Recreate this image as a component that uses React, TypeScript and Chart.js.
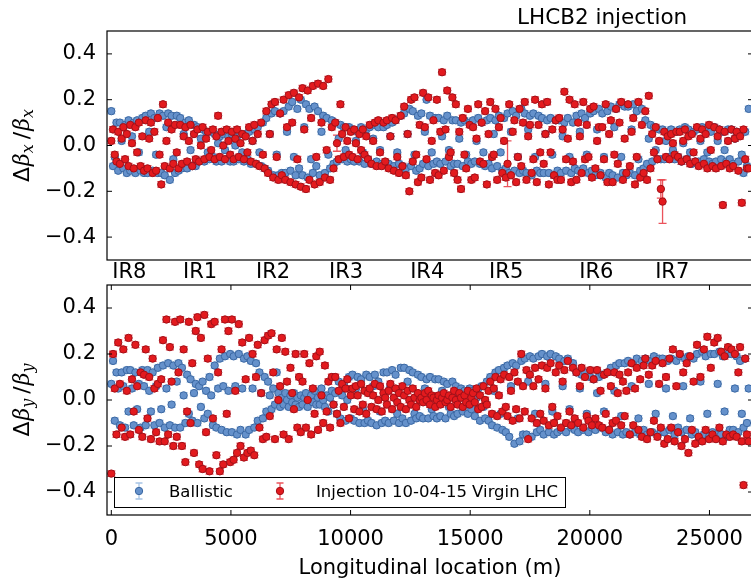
import React, { useEffect, useRef } from "react";
import { Chart, registerables } from "chart.js";

Chart.register(...registerables);

// BPM longitudinal positions (m)
const positions = [
  0, 72, 144, 216, 288, 360, 432, 504, 576, 648,
  720, 792, 864, 936, 1008, 1080, 1152, 1224, 1296, 1368,
  1440, 1512, 1584, 1656, 1728, 1800, 1872, 1944, 2016, 2088,
  2160, 2232, 2304, 2376, 2448, 2520, 2592, 2664, 2736, 2808,
  2880, 2952, 3024, 3096, 3168, 3240, 3312, 3384, 3456, 3528,
  3600, 3672, 3744, 3816, 3888, 3960, 4032, 4104, 4176, 4248,
  4320, 4392, 4464, 4536, 4608, 4680, 4752, 4824, 4896, 4968,
  5040, 5112, 5184, 5256, 5328, 5400, 5472, 5544, 5616, 5688,
  5760, 5832, 5904, 5976, 6048, 6120, 6192, 6264, 6336, 6408,
  6480, 6552, 6624, 6696, 6768, 6840, 6912, 6984, 7056, 7128,
  7200, 7272, 7344, 7416, 7488, 7560, 7632, 7704, 7776, 7848,
  7920, 7992, 8064, 8136, 8208, 8280, 8352, 8424, 8496, 8568,
  8640, 8712, 8784, 8856, 8928, 9000, 9072, 9144, 9216, 9288,
  9360, 9432, 9504, 9576, 9648, 9720, 9792, 9864, 9936, 10008,
  10080, 10152, 10224, 10296, 10368, 10440, 10512, 10584, 10656, 10728,
  10800, 10872, 10944, 11016, 11088, 11160, 11232, 11304, 11376, 11448,
  11520, 11592, 11664, 11736, 11808, 11880, 11952, 12024, 12096, 12168,
  12240, 12312, 12384, 12456, 12528, 12600, 12672, 12744, 12816, 12888,
  12960, 13032, 13104, 13176, 13248, 13320, 13392, 13464, 13536, 13608,
  13680, 13752, 13824, 13896, 13968, 14040, 14112, 14184, 14256, 14328,
  14400, 14472, 14544, 14616, 14688, 14760, 14832, 14904, 14976, 15048,
  15120, 15192, 15264, 15336, 15408, 15480, 15552, 15624, 15696, 15768,
  15840, 15912, 15984, 16056, 16128, 16200, 16272, 16344, 16416, 16488,
  16560, 16632, 16704, 16776, 16848, 16920, 16992, 17064, 17136, 17208,
  17280, 17352, 17424, 17496, 17568, 17640, 17712, 17784, 17856, 17928,
  18000, 18072, 18144, 18216, 18288, 18360, 18432, 18504, 18576, 18648,
  18720, 18792, 18864, 18936, 19008, 19080, 19152, 19224, 19296, 19368,
  19440, 19512, 19584, 19656, 19728, 19800, 19872, 19944, 20016, 20088,
  20160, 20232, 20304, 20376, 20448, 20520, 20592, 20664, 20736, 20808,
  20880, 20952, 21024, 21096, 21168, 21240, 21312, 21384, 21456, 21528,
  21600, 21672, 21744, 21816, 21888, 21960, 22032, 22104, 22176, 22248,
  22320, 22392, 22464, 22536, 22608, 22680, 22752, 22824, 22896, 22968,
  23040, 23112, 23184, 23256, 23328, 23400, 23472, 23544, 23616, 23688,
  23760, 23832, 23904, 23976, 24048, 24120, 24192, 24264, 24336, 24408,
  24480, 24552, 24624, 24696, 24768, 24840, 24912, 24984, 25056, 25128,
  25200, 25272, 25344, 25416, 25488, 25560, 25632, 25704, 25776, 25848,
  25920, 25992, 26064, 26136, 26208, 26280, 26352, 26424, 26496, 26568,
  26640,
];

// Δβx/βx — ballistic optics
const betaXBallistic = [
  0.15, -0.09, -0.05, 0.10, -0.11, 0.10, 0.02, -0.10, 0.09, -0.12,
  0.11, -0.11, 0.04, 0.10, -0.12, 0.11, -0.03, -0.11, 0.12, -0.12,
  0.13, -0.12, 0.06, 0.14, -0.11, 0.12, -0.04, -0.12, 0.14, -0.12,
  0.13, -0.13, 0.08, 0.14, -0.15, 0.13, -0.06, -0.12, 0.13, -0.11,
  0.12, -0.10, 0.05, 0.10, -0.10, 0.11, -0.02, -0.09, 0.09, -0.09,
  0.08, -0.07, 0.03, 0.07, -0.07, 0.06, -0.03, -0.06, 0.06, -0.05,
  0.05, -0.07, 0.01, 0.04, -0.07, 0.05, -0.02, -0.06, 0.04, -0.07,
  0.05, -0.07, 0.00, 0.04, -0.06, 0.05, -0.03, -0.07, 0.05, -0.06,
  0.06, -0.08, 0.02, 0.07, -0.08, 0.08, -0.03, -0.09, 0.10, -0.10,
  0.12, -0.11, 0.05, 0.14, -0.13, 0.15, -0.04, -0.13, 0.14, -0.12,
  0.15, -0.12, 0.06, 0.17, -0.11, 0.19, -0.05, -0.13, 0.16, -0.10,
  0.20, -0.13, 0.08, 0.18, -0.14, 0.16, -0.06, -0.12, 0.17, -0.09,
  0.15, -0.13, 0.06, 0.13, -0.12, 0.12, -0.04, -0.10, 0.11, -0.08,
  0.10, -0.07, 0.03, 0.09, -0.06, 0.08, -0.02, -0.07, 0.08, -0.06,
  0.07, -0.07, 0.02, 0.06, -0.07, 0.08, -0.03, -0.08, 0.07, -0.06,
  0.08, -0.08, 0.03, 0.09, -0.07, 0.08, -0.02, -0.08, 0.08, -0.08,
  0.09, -0.08, 0.04, 0.10, -0.09, 0.11, -0.03, -0.08, 0.13, -0.09,
  0.14, -0.10, 0.05, 0.16, -0.09, 0.15, -0.04, -0.11, 0.13, -0.10,
  0.14, -0.08, 0.06, 0.20, -0.09, 0.13, -0.03, -0.08, 0.12, -0.07,
  0.12, -0.08, 0.04, 0.11, -0.07, 0.13, -0.02, -0.09, 0.11, -0.08,
  0.11, -0.08, 0.03, 0.10, -0.09, 0.11, -0.04, -0.07, 0.10, -0.08,
  0.11, -0.07, 0.02, 0.12, -0.08, 0.10, -0.03, -0.09, 0.11, -0.08,
  0.12, -0.10, 0.05, 0.11, -0.09, 0.13, -0.03, -0.11, 0.12, -0.10,
  0.14, -0.12, 0.06, 0.15, -0.11, 0.13, -0.05, -0.12, 0.16, -0.11,
  0.14, -0.12, 0.07, 0.13, -0.13, 0.14, -0.05, -0.11, 0.13, -0.12,
  0.12, -0.12, 0.05, 0.11, -0.12, 0.12, -0.04, -0.13, 0.11, -0.11,
  0.11, -0.12, 0.04, 0.10, -0.11, 0.12, -0.05, -0.12, 0.10, -0.10,
  0.13, -0.11, 0.06, 0.14, -0.10, 0.12, -0.04, -0.12, 0.14, -0.11,
  0.15, -0.13, 0.07, 0.16, -0.12, 0.14, -0.05, -0.14, 0.15, -0.12,
  0.17, -0.13, 0.08, 0.16, -0.14, 0.18, -0.05, -0.12, 0.17, -0.13,
  0.17, -0.12, 0.07, 0.18, -0.13, 0.15, -0.06, -0.11, 0.16, -0.10,
  0.11, -0.08, 0.03, 0.09, -0.07, 0.08, -0.02, -0.06, 0.07, -0.06,
  0.07, -0.06, 0.02, 0.06, -0.05, 0.07, -0.02, -0.06, 0.06, -0.05,
  0.07, -0.07, 0.01, 0.08, -0.06, 0.07, -0.03, -0.08, 0.06, -0.07,
  0.07, -0.07, 0.02, 0.08, -0.06, 0.07, -0.03, -0.07, 0.06, -0.08,
  0.08, -0.07, 0.02, 0.07, -0.06, 0.06, -0.02, -0.07, 0.07, -0.06,
  0.07, -0.08, 0.03, 0.06, -0.07, 0.05, -0.04, -0.12, 0.06, -0.09,
  0.16,
];

// Δβx/βx — injection optics, 10-04-15, virgin LHC
const betaXInjection = [
  0.02, 0.07, -0.04, -0.07, 0.06, -0.08, 0.03, 0.08, -0.06, 0.05,
  -0.09, 0.09, 0.01, -0.10, 0.08, -0.03, 0.10, -0.09, 0.04, -0.11,
  0.11, -0.10, 0.03, 0.10, -0.12, 0.06, -0.11, 0.12, -0.04, -0.17,
  0.18, -0.09, 0.02, 0.10, -0.10, 0.07, -0.08, 0.09, -0.03, -0.10,
  0.09, -0.08, 0.04, 0.08, -0.07, 0.02, 0.09, -0.09, 0.05, -0.06,
  0.07, -0.07, 0.00, 0.08, -0.06, 0.03, 0.06, -0.05, -0.02, 0.07,
  -0.06, 0.04, 0.13, -0.05, 0.06, 0.00, -0.06, 0.07, 0.02, -0.04,
  0.06, -0.06, 0.03, 0.07, -0.05, 0.01, 0.05, -0.06, 0.04, -0.03,
  0.08, -0.07, 0.02, 0.09, -0.08, 0.05, -0.09, 0.10, -0.04, -0.10,
  0.15, -0.12, 0.05, 0.18, -0.14, 0.19, -0.05, -0.15, 0.14, -0.13,
  0.20, -0.15, 0.08, 0.22, -0.16, 0.10, 0.23, -0.17, -0.06, 0.21,
  -0.18, 0.25, 0.07, -0.19, 0.24, -0.15, 0.12, 0.26, -0.17, -0.05,
  0.27, -0.16, 0.10, 0.26, -0.14, -0.02, 0.29, -0.15, 0.08, -0.10,
  0.10, 0.01, -0.06, 0.18, 0.05, -0.05, 0.08, 0.02, -0.04, 0.06,
  -0.05, 0.07, 0.01, -0.06, 0.05, -0.02, 0.07, -0.04, 0.04, -0.06,
  0.09, -0.08, 0.02, 0.10, -0.09, 0.11, -0.03, -0.09, 0.10, -0.07,
  0.11, -0.10, 0.04, 0.12, -0.11, 0.11, -0.05, -0.12, 0.13, -0.09,
  0.17, -0.13, 0.05, -0.20, 0.20, -0.07, 0.21, -0.04, -0.16, 0.09,
  -0.14, 0.23, 0.08, -0.06, 0.21, -0.15, 0.02, 0.11, -0.12, 0.20,
  -0.13, 0.06, 0.32, -0.11, 0.07, 0.24, -0.05, -0.03, 0.21, -0.12,
  0.18, -0.15, 0.06, -0.19, 0.12, -0.04, -0.10, 0.16, 0.09, -0.15,
  0.08, -0.14, 0.03, 0.18, -0.07, 0.10, -0.08, 0.15, -0.17, 0.05,
  0.19, -0.05, -0.04, 0.16, -0.15, 0.08, 0.12, -0.12, 0.02, -0.14,
  -0.08, 0.18, -0.13, 0.06, 0.11, -0.16, -0.05, 0.16, -0.09, 0.10,
  0.19, -0.15, 0.04, 0.09, -0.12, -0.06, 0.20, -0.16, 0.09, -0.03,
  0.18, -0.08, 0.05, 0.19, -0.17, -0.03, 0.07, -0.13, 0.11, -0.15,
  0.12, -0.15, 0.07, 0.235, -0.06, 0.03, 0.20, -0.16, -0.07, 0.18,
  -0.15, 0.10, 0.04, -0.12, 0.19, -0.06, 0.09, -0.05, 0.16, -0.14,
  0.17, -0.10, 0.02, 0.08, -0.13, 0.08, -0.06, 0.18, -0.16, 0.05,
  0.11, -0.16, -0.04, 0.16, -0.08, 0.10, 0.19, -0.15, 0.03, -0.12,
  0.18, -0.09, 0.06, 0.12, -0.17, -0.05, 0.19, -0.14, 0.09, -0.12,
  0.15, -0.15, 0.217, -0.10, 0.05, -0.03, 0.08, -0.06, 0.02, -0.19,
  -0.245, 0.06, -0.05, 0.04, -0.06, 0.05, 0.01, -0.04, 0.06, -0.05,
  0.06, -0.07, 0.02, 0.07, -0.06, 0.04, -0.08, 0.05, -0.03, -0.07,
  0.08, -0.09, 0.03, 0.07, -0.08, 0.05, -0.10, 0.09, -0.02, -0.09,
  0.08, -0.10, 0.04, 0.07, -0.09, -0.26, 0.06, -0.08, 0.02, -0.10,
  0.07, -0.09, 0.03, 0.06, -0.11, 0.04, -0.25, 0.07, -0.06, -0.10,
  -0.10,
];

// Δβy/βy — ballistic optics
const betaYBallistic = [
  0.07, 0.17, -0.09, 0.12, 0.05, -0.11, 0.12, 0.06, -0.12, 0.13,
  -0.05, 0.13, 0.05, -0.11, 0.12, -0.04, 0.07, -0.12, 0.13, 0.06,
  -0.11, 0.13, 0.04, -0.05, 0.12, -0.11, 0.06, 0.14, -0.10, -0.04,
  0.15, -0.12, 0.05, 0.16, -0.11, -0.02, 0.15, -0.12, 0.08, 0.16,
  -0.12, 0.14, 0.02, -0.10, 0.11, -0.06, 0.09, -0.09, 0.03, 0.07,
  -0.10, 0.06, -0.03, 0.08, -0.08, 0.04, -0.06, 0.10, 0.02, -0.11,
  0.15, -0.12, 0.05, 0.18, -0.13, 0.06, 0.19, -0.14, 0.04, 0.20,
  -0.14, 0.19, 0.06, -0.15, 0.20, -0.13, 0.05, 0.18, -0.15, 0.19,
  -0.13, 0.17, 0.05, -0.12, 0.16, -0.09, 0.12, 0.03, -0.08, 0.10,
  -0.05, 0.08, 0.02, -0.04, 0.05, -0.02, 0.12, 0.03, -0.03, 0.01,
  -0.02, 0.03, 0.00, -0.03, 0.02, -0.01, 0.03, -0.02, 0.01, -0.03,
  0.02, -0.02, 0.01, 0.03, -0.03, 0.00, 0.02, -0.01, 0.04, -0.02,
  0.01, -0.02, 0.05, 0.00, -0.03, 0.02, -0.05, 0.01, 0.04, -0.02,
  0.03, -0.06, 0.08, -0.08, 0.02, 0.07, -0.09, 0.00, 0.10, -0.08,
  0.11, -0.09, 0.05, 0.10, -0.10, 0.09, -0.04, -0.10, 0.11, -0.09,
  0.10, -0.10, 0.06, 0.11, -0.11, 0.08, -0.05, -0.10, 0.12, -0.09,
  0.12, -0.10, 0.06, 0.13, -0.09, 0.11, -0.06, -0.10, 0.14, -0.08,
  0.14, -0.10, 0.08, 0.13, -0.09, 0.12, -0.06, -0.08, 0.11, -0.07,
  0.10, -0.08, 0.05, 0.09, -0.08, 0.10, -0.04, -0.07, 0.09, -0.08,
  0.09, -0.07, 0.04, 0.08, -0.08, 0.07, -0.03, -0.06, 0.08, -0.07,
  0.06, -0.06, 0.02, 0.05, -0.05, 0.04, -0.02, -0.06, 0.05, -0.04,
  0.04, -0.07, 0.01, 0.05, -0.09, 0.06, -0.03, -0.08, 0.08, -0.09,
  0.10, -0.11, 0.04, 0.12, -0.12, 0.13, -0.06, -0.13, 0.14, -0.14,
  0.15, -0.16, 0.06, 0.16, -0.19, 0.15, -0.08, -0.18, 0.17, -0.15,
  0.18, -0.15, 0.08, 0.19, -0.16, 0.18, -0.06, -0.14, 0.19, -0.13,
  0.20, -0.15, 0.07, 0.19, -0.14, 0.20, -0.05, -0.15, 0.19, -0.14,
  0.18, -0.13, 0.06, 0.17, -0.14, 0.18, -0.04, -0.12, 0.16, -0.13,
  0.12, -0.14, 0.05, 0.11, -0.13, 0.12, -0.06, -0.14, 0.10, -0.12,
  0.09, -0.13, 0.03, 0.10, -0.12, 0.11, -0.05, -0.14, 0.12, -0.13,
  0.14, -0.15, 0.04, 0.15, -0.14, 0.16, -0.07, -0.15, 0.16, -0.14,
  0.17, -0.15, 0.06, 0.16, -0.14, 0.18, -0.08, -0.15, 0.17, -0.13,
  0.18, -0.15, 0.07, 0.17, -0.14, 0.19, -0.06, -0.15, 0.18, -0.14,
  0.18, -0.14, 0.05, 0.17, -0.13, 0.18, -0.07, -0.15, 0.17, -0.12,
  0.19, -0.14, 0.06, 0.18, -0.13, 0.19, -0.08, -0.15, 0.18, -0.14,
  0.20, -0.16, 0.08, 0.21, -0.15, 0.19, -0.06, -0.16, 0.20, -0.14,
  0.20, -0.15, 0.07, 0.21, -0.15, 0.19, -0.05, -0.16, 0.20, -0.13,
  0.20, -0.13, 0.05, 0.19, -0.14, 0.17, -0.06, -0.12, 0.18, -0.10,
  0.05,
];

// Δβy/βy — injection optics, 10-04-15, virgin LHC
const betaYInjection = [
  -0.32, 0.20, 0.05, -0.15, 0.25, 0.07, -0.12, 0.22, -0.16, 0.04,
  0.27, -0.15, 0.09, -0.05, 0.24, 0.06, -0.13, 0.12, -0.16, 0.11,
  0.22, -0.08, 0.10, -0.17, 0.18, 0.05, -0.14, 0.07, -0.18, 0.09,
  0.26, -0.18, 0.35, -0.15, 0.23, 0.08, -0.20, 0.34, -0.16, 0.12,
  0.35, -0.20, 0.22, -0.27, -0.05, 0.34, -0.10, 0.16, -0.23, 0.30,
  0.36, -0.28, 0.27, -0.30, 0.37, -0.14, 0.18, -0.31, 0.33, -0.08,
  0.34, -0.24, 0.12, -0.31, 0.22, -0.28, 0.35, -0.06, 0.30, -0.27,
  0.35, -0.26, 0.04, -0.23, 0.33, -0.20, 0.25, -0.25, 0.09, -0.23,
  0.27, -0.22, 0.20, -0.24, 0.10, 0.24, -0.12, 0.03, -0.17, 0.26,
  -0.16, 0.28, -0.07, 0.29, 0.12, -0.17, 0.22, 0.00, 0.06, 0.27,
  -0.15, 0.21, 0.08, -0.17, 0.14, 0.03, -0.04, 0.20, -0.12, 0.10,
  -0.14, 0.08, 0.20, -0.12, 0.00, 0.16, -0.15, 0.05, -0.06, 0.19,
  -0.13, 0.21, 0.02, -0.10, 0.15, -0.05, 0.08, -0.12, 0.10, -0.02,
  0.10, -0.06, 0.04, -0.10, 0.07, -0.03, 0.05, 0.09, -0.08, 0.02,
  0.05, -0.04, 0.06, 0.02, -0.05, 0.07, -0.02, 0.04, -0.06, 0.03,
  0.05, -0.03, 0.02, 0.07, -0.04, 0.00, 0.06, -0.05, 0.03, 0.01,
  -0.02, 0.04, 0.07, -0.04, 0.01, 0.05, -0.01, 0.03, -0.03, 0.06,
  0.02, -0.04, 0.04, 0.00, -0.02, 0.05, 0.01, -0.03, 0.03, 0.00,
  0.01, -0.01, 0.03, 0.00, 0.04, -0.02, 0.02, 0.01, -0.03, 0.00,
  0.02, -0.02, 0.01, 0.03, -0.01, 0.00, 0.02, -0.03, 0.01, 0.04,
  0.00, -0.02, 0.03, 0.01, -0.03, 0.02, -0.01, 0.04, -0.02, 0.01,
  0.03, -0.01, 0.05, -0.04, 0.02, -0.03, 0.06, 0.00, -0.02, 0.04,
  0.08, -0.06, 0.05, 0.10, -0.07, 0.02, 0.09, -0.05, 0.11, -0.03,
  -0.07, 0.10, 0.04, -0.09, 0.12, -0.04, 0.08, -0.08, 0.20, 0.06,
  -0.05, 0.13, -0.17, 0.11, -0.08, 0.06, 0.14, -0.10, 0.09, -0.06,
  0.15, -0.09, 0.05, 0.14, -0.11, 0.16, -0.03, -0.10, 0.12, -0.07,
  0.15, -0.12, 0.08, 0.13, -0.10, 0.17, -0.05, -0.11, 0.14, -0.08,
  0.12, -0.10, 0.06, 0.14, -0.12, 0.10, -0.07, -0.09, 0.13, -0.11,
  0.09, -0.08, 0.13, -0.11, 0.04, -0.12, 0.11, -0.06, 0.12, -0.13,
  0.06, -0.10, 0.12, -0.09, 0.03, 0.11, -0.11, 0.08, -0.07, 0.04,
  0.12, -0.15, 0.16, -0.11, 0.05, 0.14, -0.13, 0.09, -0.16, 0.15,
  0.18, -0.17, 0.11, -0.14, 0.15, -0.09, 0.17, -0.16, 0.07, -0.12,
  0.16, -0.19, 0.10, -0.17, 0.18, -0.12, 0.22, -0.18, 0.06, -0.14,
  0.20, -0.20, 0.12, -0.17, 0.16, -0.23, 0.19, -0.13, 0.08, -0.19,
  0.24, -0.16, 0.10, -0.18, 0.22, -0.13, 0.275, -0.17, 0.14, -0.15,
  0.25, -0.17, 0.27, -0.12, 0.21, -0.18, 0.19, -0.15, 0.23, -0.16,
  0.22, -0.15, 0.20, -0.16, 0.12, 0.23, -0.18, -0.37, 0.18, -0.15,
  -0.18,
];

// error bars: small default, a few large ones on the injection Δβx/βx data
const baseErr = 0.012;
const xInjErrPositions = [9432, 16560, 22968, 23040];
const xInjErrValues = [0.035, 0.1, 0.04, 0.095];

const yTickValues = [0.4, 0.2, 0, -0.2, -0.4];
const yTickLabels = ["0.4", "0.2", "0.0", "\u22120.2", "\u22120.4"];
const xTickValues = [0, 5000, 10000, 15000, 20000, 25000];
const xTickLabels = ["0", "5000", "10000", "15000", "20000", "25000"];
const irNames = ["IR8", "IR1", "IR2", "IR3", "IR4", "IR5", "IR6", "IR7"];
const irPositions = [40, 3000, 6050, 9100, 12490, 15790, 19560, 22730];

const X_MIN = -180;
const X_MAX = 26820;

const FONT = '"DejaVu Sans", sans-serif';
const BLUE = "#6591CB";
const BLUE_EDGE = "#3A67A2";
const BLUE_ERR = "rgba(120,165,215,0.65)";
const RED = "#E31A1E";
const RED_EDGE = "#A01018";
const RED_ERR = "rgba(230,40,50,0.8)";

function makeErrs(vals: number[], errPos: number[], errVal: number[]) {
  return vals.map((_, i) => {
    const k = errPos.indexOf(positions[i]);
    return k >= 0 ? errVal[k] : baseErr;
  });
}

function pts(vals: number[]) {
  return vals.map((v, i) => ({ x: positions[i], y: v }));
}

function datasets(ball: number[], inj: number[], errPos: number[], errVal: number[]) {
  return [
    {
      label: "Ballistic",
      data: pts(ball),
      order: 1,
      showLine: false,
      pointRadius: 3.7,
      pointBorderWidth: 1,
      pointBackgroundColor: BLUE,
      pointBorderColor: BLUE_EDGE,
      errs: makeErrs(ball, [], []),
      errColor: BLUE_ERR,
    },
    {
      label: "Injection 10-04-15 Virgin LHC",
      data: pts(inj),
      order: 0,
      showLine: false,
      pointRadius: 3.7,
      pointBorderWidth: 1,
      pointBackgroundColor: RED,
      pointBorderColor: RED_EDGE,
      errs: makeErrs(inj, errPos, errVal),
      errColor: RED_ERR,
    },
  ];
}

const errorBarPlugin = {
  id: "errbars",
  beforeDatasetsDraw(chart: any) {
    const ctx = chart.ctx;
    const xs = chart.scales.x;
    const ys = chart.scales.y;
    const a = chart.chartArea;
    ctx.save();
    ctx.beginPath();
    ctx.rect(a.left, a.top, a.right - a.left, a.bottom - a.top);
    ctx.clip();
    chart.data.datasets.forEach((ds: any) => {
      ctx.strokeStyle = ds.errColor;
      ctx.lineWidth = 1.3;
      ds.data.forEach((p: any, i: number) => {
        const e = ds.errs[i];
        const px = xs.getPixelForValue(p.x);
        const y1 = ys.getPixelForValue(p.y + e);
        const y2 = ys.getPixelForValue(p.y - e);
        ctx.beginPath();
        ctx.moveTo(px, y1);
        ctx.lineTo(px, y2);
        ctx.moveTo(px - 4, y1);
        ctx.lineTo(px + 4, y1);
        ctx.moveTo(px - 4, y2);
        ctx.lineTo(px + 4, y2);
        ctx.stroke();
      });
    });
    ctx.restore();
  },
};

function framePlugin(withXTicks: boolean) {
  return {
    id: "frame",
    afterDatasetsDraw(chart: any) {
      const ctx = chart.ctx;
      const a = chart.chartArea;
      const xs = chart.scales.x;
      const ys = chart.scales.y;
      ctx.save();
      ctx.strokeStyle = "#000";
      ctx.lineWidth = 1.2;
      ctx.strokeRect(a.left, a.top, a.right - a.left, a.bottom - a.top);
      ctx.lineWidth = 1;
      ctx.beginPath();
      yTickValues.forEach((v) => {
        const py = ys.getPixelForValue(v);
        ctx.moveTo(a.left, py);
        ctx.lineTo(a.left + 5, py);
        ctx.moveTo(a.right, py);
        ctx.lineTo(a.right - 5, py);
      });
      if (withXTicks) {
        xTickValues.forEach((v) => {
          const px = xs.getPixelForValue(v);
          ctx.moveTo(px, a.top);
          ctx.lineTo(px, a.top + 5);
          ctx.moveTo(px, a.bottom);
          ctx.lineTo(px, a.bottom - 5);
        });
      }
      ctx.stroke();
      ctx.restore();
    },
  };
}

function drawYTitle(ctx: CanvasRenderingContext2D, baseX: number, cy: number, sub: string) {
  const size = 22;
  const subSize = 16;
  const parts = [
    { t: "\u0394", font: `${size}px "DejaVu Sans"`, dy: 0, gap: 1 },
    { t: "\u03B2", font: `italic ${size}px "DejaVu Serif"`, dy: 0, gap: 0 },
    { t: sub, font: `italic ${subSize}px "DejaVu Serif"`, dy: 4, gap: 5 },
    { t: "/", font: `${size}px "DejaVu Sans"`, dy: 0, gap: 1 },
    { t: "\u03B2", font: `italic ${size}px "DejaVu Serif"`, dy: 0, gap: 0 },
    { t: sub, font: `italic ${subSize}px "DejaVu Serif"`, dy: 4, gap: 0 },
  ];
  ctx.save();
  let total = 0;
  const widths = parts.map((p) => {
    ctx.font = p.font;
    const w = ctx.measureText(p.t).width;
    total += w + p.gap;
    return w;
  });
  ctx.translate(baseX, cy);
  ctx.rotate(-Math.PI / 2);
  ctx.fillStyle = "#000";
  ctx.textBaseline = "alphabetic";
  ctx.textAlign = "left";
  let x = -total / 2;
  parts.forEach((p, i) => {
    ctx.font = p.font;
    ctx.fillText(p.t, x, p.dy);
    x += widths[i] + p.gap;
  });
  ctx.restore();
}

function yScale() {
  return {
    type: "linear",
    min: -0.5,
    max: 0.5,
    afterFit: (s: any) => {
      s.width = 107;
    },
    afterBuildTicks: (s: any) => {
      s.ticks = yTickValues.map((v) => ({ value: v }));
    },
    ticks: {
      callback: (_v: any, i: number) => yTickLabels[i],
      color: "#000",
      font: { family: FONT, size: 21 },
      padding: 11,
    },
    grid: { display: false, drawTicks: false },
    border: { display: false },
  };
}

const TOP_H = 290;
const BOTTOM_TOP = 255;
const BOTTOM_H = 581 - BOTTOM_TOP;
const CANVAS_W = 760;

export default function App() {
  const topRef = useRef<HTMLCanvasElement>(null);
  const botRef = useRef<HTMLCanvasElement>(null);

  useEffect(() => {
    const topText = {
      id: "topText",
      afterDraw(chart: any) {
        const ctx = chart.ctx;
        const a = chart.chartArea;
        ctx.save();
        ctx.fillStyle = "#000";
        ctx.font = `21.5px ${FONT}`;
        ctx.textBaseline = "alphabetic";
        ctx.textAlign = "left";
        ctx.fillText("LHCB2 injection", 517, 24);
        ctx.restore();
        drawYTitle(ctx, 29, (a.top + a.bottom) / 2, "x");
      },
    };

    const botText = {
      id: "botText",
      afterDraw(chart: any) {
        const ctx = chart.ctx;
        const a = chart.chartArea;
        const xs = chart.scales.x;
        ctx.save();
        ctx.fillStyle = "#000";
        ctx.textBaseline = "alphabetic";
        ctx.textAlign = "left";
        ctx.font = `21px ${FONT}`;
        irNames.forEach((n, i) => {
          ctx.fillText(n, xs.getPixelForValue(irPositions[i]), 278 - BOTTOM_TOP);
        });
        ctx.textAlign = "center";
        ctx.fillText("Longitudinal location (m)", (a.left + a.right) / 2, 574 - BOTTOM_TOP);

        // legend
        const lx = 114, ly = 477 - BOTTOM_TOP, lw = 451, lh = 30;
        ctx.fillStyle = "#fff";
        ctx.fillRect(lx, ly, lw, lh);
        ctx.strokeStyle = "#000";
        ctx.lineWidth = 1;
        ctx.strokeRect(lx + 0.5, ly + 0.5, lw, lh);
        const my = 491 - BOTTOM_TOP;
        const entries = [
          { mx: 139, tx: 169, fill: BLUE, edge: BLUE_EDGE, err: BLUE_ERR, label: "Ballistic" },
          { mx: 280, tx: 316, fill: RED, edge: RED_EDGE, err: RED_ERR, label: "Injection 10-04-15 Virgin LHC" },
        ];
        entries.forEach((e) => {
          ctx.strokeStyle = e.err;
          ctx.lineWidth = 1.3;
          ctx.beginPath();
          ctx.moveTo(e.mx, my - 8);
          ctx.lineTo(e.mx, my + 8);
          ctx.moveTo(e.mx - 3.5, my - 8);
          ctx.lineTo(e.mx + 3.5, my - 8);
          ctx.moveTo(e.mx - 3.5, my + 8);
          ctx.lineTo(e.mx + 3.5, my + 8);
          ctx.stroke();
          ctx.beginPath();
          ctx.arc(e.mx, my, 3.7, 0, Math.PI * 2);
          ctx.fillStyle = e.fill;
          ctx.fill();
          ctx.strokeStyle = e.edge;
          ctx.lineWidth = 1;
          ctx.stroke();
          ctx.fillStyle = "#000";
          ctx.textAlign = "left";
          ctx.font = `16.5px ${FONT}`;
          ctx.fillText(e.label, e.tx, 497 - BOTTOM_TOP);
        });
        ctx.restore();
        drawYTitle(ctx, 29, (a.top + a.bottom) / 2, "y");
      },
    };

    const common = {
      animation: false,
      responsive: false,
      events: [],
      plugins: { legend: { display: false }, tooltip: { enabled: false } },
    };

    const topChart = new Chart(topRef.current as HTMLCanvasElement, {
      type: "scatter",
      data: { datasets: datasets(betaXBallistic, betaXInjection, xInjErrPositions, xInjErrValues) as any },
      options: {
        ...common,
        layout: { padding: { top: 31, bottom: TOP_H - 260, left: 0, right: CANVAS_W - 753 } },
        scales: {
          x: { type: "linear", min: X_MIN, max: X_MAX, display: false },
          y: yScale() as any,
        },
      } as any,
      plugins: [errorBarPlugin, framePlugin(false), topText],
    });

    const botChart = new Chart(botRef.current as HTMLCanvasElement, {
      type: "scatter",
      data: { datasets: datasets(betaYBallistic, betaYInjection, [], []) as any },
      options: {
        ...common,
        layout: { padding: { top: 285 - BOTTOM_TOP, bottom: 0, left: 0, right: CANVAS_W - 753 } },
        scales: {
          x: {
            type: "linear",
            min: X_MIN,
            max: X_MAX,
            afterFit: (s: any) => {
              s.height = 581 - 515;
            },
            afterBuildTicks: (s: any) => {
              s.ticks = xTickValues.map((v) => ({ value: v }));
            },
            ticks: {
              callback: (_v: any, i: number) => xTickLabels[i],
              color: "#000",
              font: { family: FONT, size: 21 },
              padding: 12,
              maxRotation: 0,
              autoSkip: false,
            },
            grid: { display: false, drawTicks: false },
            border: { display: false },
          },
          y: yScale() as any,
        },
      } as any,
      plugins: [errorBarPlugin, framePlugin(true), botText],
    });

    return () => {
      topChart.destroy();
      botChart.destroy();
    };
  }, []);

  return (
    <div
      style={{
        position: "fixed",
        left: 0,
        top: 0,
        width: 751,
        height: 581,
        overflow: "hidden",
        background: "#fff",
      }}
    >
      <canvas
        ref={topRef}
        width={CANVAS_W}
        height={TOP_H}
        style={{ position: "absolute", left: 0, top: 0, width: CANVAS_W, height: TOP_H }}
      />
      <canvas
        ref={botRef}
        width={CANVAS_W}
        height={BOTTOM_H}
        style={{ position: "absolute", left: 0, top: BOTTOM_TOP, width: CANVAS_W, height: BOTTOM_H }}
      />
    </div>
  );
}
